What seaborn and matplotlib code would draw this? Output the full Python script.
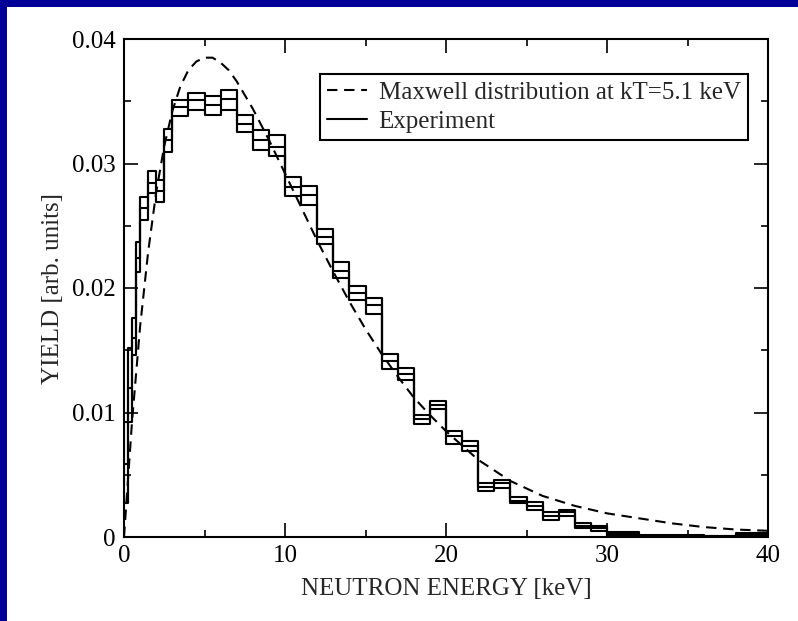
import numpy as np
import pandas as pd
import matplotlib
matplotlib.use("Agg")
import matplotlib.pyplot as plt
import seaborn as sns
from matplotlib.patches import Rectangle
from matplotlib.ticker import MultipleLocator, FuncFormatter

# ---- data ----
bin_edges = [0, 0.25, 0.5, 0.75, 1.0, 1.5, 2.0, 2.5, 3, 4, 5, 6, 7, 8, 9, 10,
             11, 12, 13, 14, 15, 16, 17, 18, 19, 20, 21, 22, 23, 24, 25, 26,
             27, 28, 29, 30, 31, 32, 33, 34, 35, 36, 37, 38, 39, 40]
yield_low = [0.0027, 0.0092, 0.0146, 0.0213, 0.0255, 0.0276, 0.0269, 0.0309,
             0.0338, 0.0343, 0.0339, 0.0343, 0.0325, 0.0311, 0.0306, 0.0274,
             0.0267, 0.0235, 0.0208, 0.0190, 0.0179, 0.0135, 0.0126, 0.0091,
             0.0103, 0.0075, 0.0069, 0.0037, 0.0039, 0.0027, 0.0022, 0.0014,
             0.0017, 0.0007, 0.0005, 0.0001, 0.0001, 0.0, 0.0, 0.0,
             0.00003, 0.0, 0.0, 0.0001, 0.0001]
yield_mid = [0.0059, 0.0120, 0.0160, 0.0224, 0.0264, 0.0284, 0.0278, 0.0319,
             0.0345, 0.0351, 0.0347, 0.0352, 0.0332, 0.0319, 0.0313, 0.0281,
             0.0275, 0.0241, 0.0214, 0.0196, 0.0186, 0.0141, 0.0131, 0.0095,
             0.0106, 0.0081, 0.0073, 0.0040, 0.0043, 0.0029, 0.0025, 0.0017,
             0.0020, 0.0009, 0.0007, 0.00025, 0.00025, 0.0001, 0.0001, 0.0001,
             0.00012, 0.00005, 0.00005, 0.0002, 0.0002]
yield_high = [0.0092, 0.0152, 0.0176, 0.0237, 0.0273, 0.0294, 0.0287, 0.0328,
              0.0351, 0.0357, 0.0354, 0.0359, 0.0339, 0.0327, 0.0323, 0.0289,
              0.0282, 0.0247, 0.0221, 0.0202, 0.0192, 0.0147, 0.0136, 0.0098,
              0.0109, 0.0085, 0.0077, 0.0043, 0.0046, 0.0032, 0.0028, 0.0020,
              0.0022, 0.00115, 0.0009, 0.0004, 0.0004, 0.0002, 0.00015, 0.00015,
              0.0002, 0.0001, 0.0001, 0.0003, 0.0003]

maxwell_energy = [0, 0.5, 1, 1.5, 2, 2.5, 3, 3.5, 4, 4.5, 5, 5.5, 6, 6.5, 7, 8,
                  9, 10, 11, 12, 13, 14, 15, 16, 17, 18, 19, 20, 22, 24, 26,
                  28, 30, 32, 34, 36, 38, 40]
maxwell_yield = [0.0, 0.0093, 0.0169, 0.0229, 0.0277, 0.0314, 0.0342, 0.0362,
                 0.0375, 0.0382, 0.0385, 0.0385, 0.0381, 0.0375, 0.0366,
                 0.0344, 0.0319, 0.0292, 0.0265, 0.0238, 0.0213, 0.0189,
                 0.0167, 0.0147, 0.0129, 0.0112, 0.0098, 0.0085, 0.0062,
                 0.0045, 0.0033, 0.0025, 0.0019, 0.0015, 0.0011, 0.0008,
                 0.0006, 0.0005]

legend_labels = ["Maxwell distribution at kT=5.1 keV", "Experiment"]
x_label = "NEUTRON ENERGY [keV]"
y_label = "YIELD [arb. units]"

# ---- style ----
sns.set_style("ticks")
plt.rcParams['font.family'] = ['Liberation Serif', 'DejaVu Serif']

W, H = 798, 621
fig = plt.figure(figsize=(W / 100, H / 100), dpi=100, facecolor='#000099')
fig.patches.append(Rectangle((7 / W, 0), 1, 1 - 7 / H, transform=fig.transFigure,
                             facecolor='white', edgecolor='none', zorder=-5))
ax = fig.add_axes([124 / W, 1 - 537 / H, 644 / W, 498 / H])
ax.set_facecolor('white')

lw = 1.5
# Maxwell curve
sns.lineplot(x=maxwell_energy, y=maxwell_yield, ax=ax, color='black', lw=lw,
             dashes=False, linestyle=(0, (5, 3.2)), label=legend_labels[0],
             estimator=None, sort=False)

# Experiment histogram (three step lines)
for i, vals in enumerate([yield_low, yield_mid, yield_high]):
    df = pd.DataFrame({"E": bin_edges, "Y": list(vals) + [vals[-1]]})
    sns.lineplot(data=df, x="E", y="Y", ax=ax, color='black', lw=lw,
                 drawstyle='steps-post', estimator=None, sort=False,
                 label=legend_labels[1] if i == 1 else None)

# vertical box edges
vx, vlo, vhi = [], [], []
n = len(yield_low)
for k in range(n + 1):
    lows, highs = [], []
    if k > 0:
        lows.append(yield_low[k - 1]); highs.append(yield_high[k - 1])
    if k < n:
        lows.append(yield_low[k]); highs.append(yield_high[k])
    vx.append(bin_edges[k]); vlo.append(min(lows)); vhi.append(max(highs))
ax.vlines(vx, vlo, vhi, color='black', lw=lw)

ax.set_xlim(0, 40)
ax.set_ylim(0, 0.04)
ax.xaxis.set_major_locator(MultipleLocator(10))
ax.xaxis.set_minor_locator(MultipleLocator(5))
ax.yaxis.set_major_locator(MultipleLocator(0.01))
ax.yaxis.set_minor_locator(MultipleLocator(0.005))
ax.yaxis.set_major_formatter(FuncFormatter(lambda v, p: f"{v:g}"))
ax.xaxis.set_major_formatter(FuncFormatter(lambda v, p: f"{v:g}"))
ax.tick_params(which='both', direction='in', top=True, right=True,
               width=1.2, colors='black', labelsize=18)
ax.tick_params(which='major', length=10, pad=6)
ax.tick_params(which='minor', length=5)
for s in ax.spines.values():
    s.set_linewidth(1.5)
    s.set_color('black')

ax.set_xlabel(x_label, fontsize=18, labelpad=8)
ax.set_ylabel(y_label, fontsize=18, labelpad=6)

leg = ax.legend(loc='upper right', bbox_to_anchor=(0.9685, 0.9297),
                frameon=True, fancybox=False, framealpha=1, edgecolor='black',
                fontsize=18, handlelength=1.6, handletextpad=0.45,
                borderpad=0.28, labelspacing=0.26, borderaxespad=0)
leg.get_frame().set_linewidth(1.5)

fig.savefig("out.png", dpi=100, facecolor=fig.get_facecolor())
